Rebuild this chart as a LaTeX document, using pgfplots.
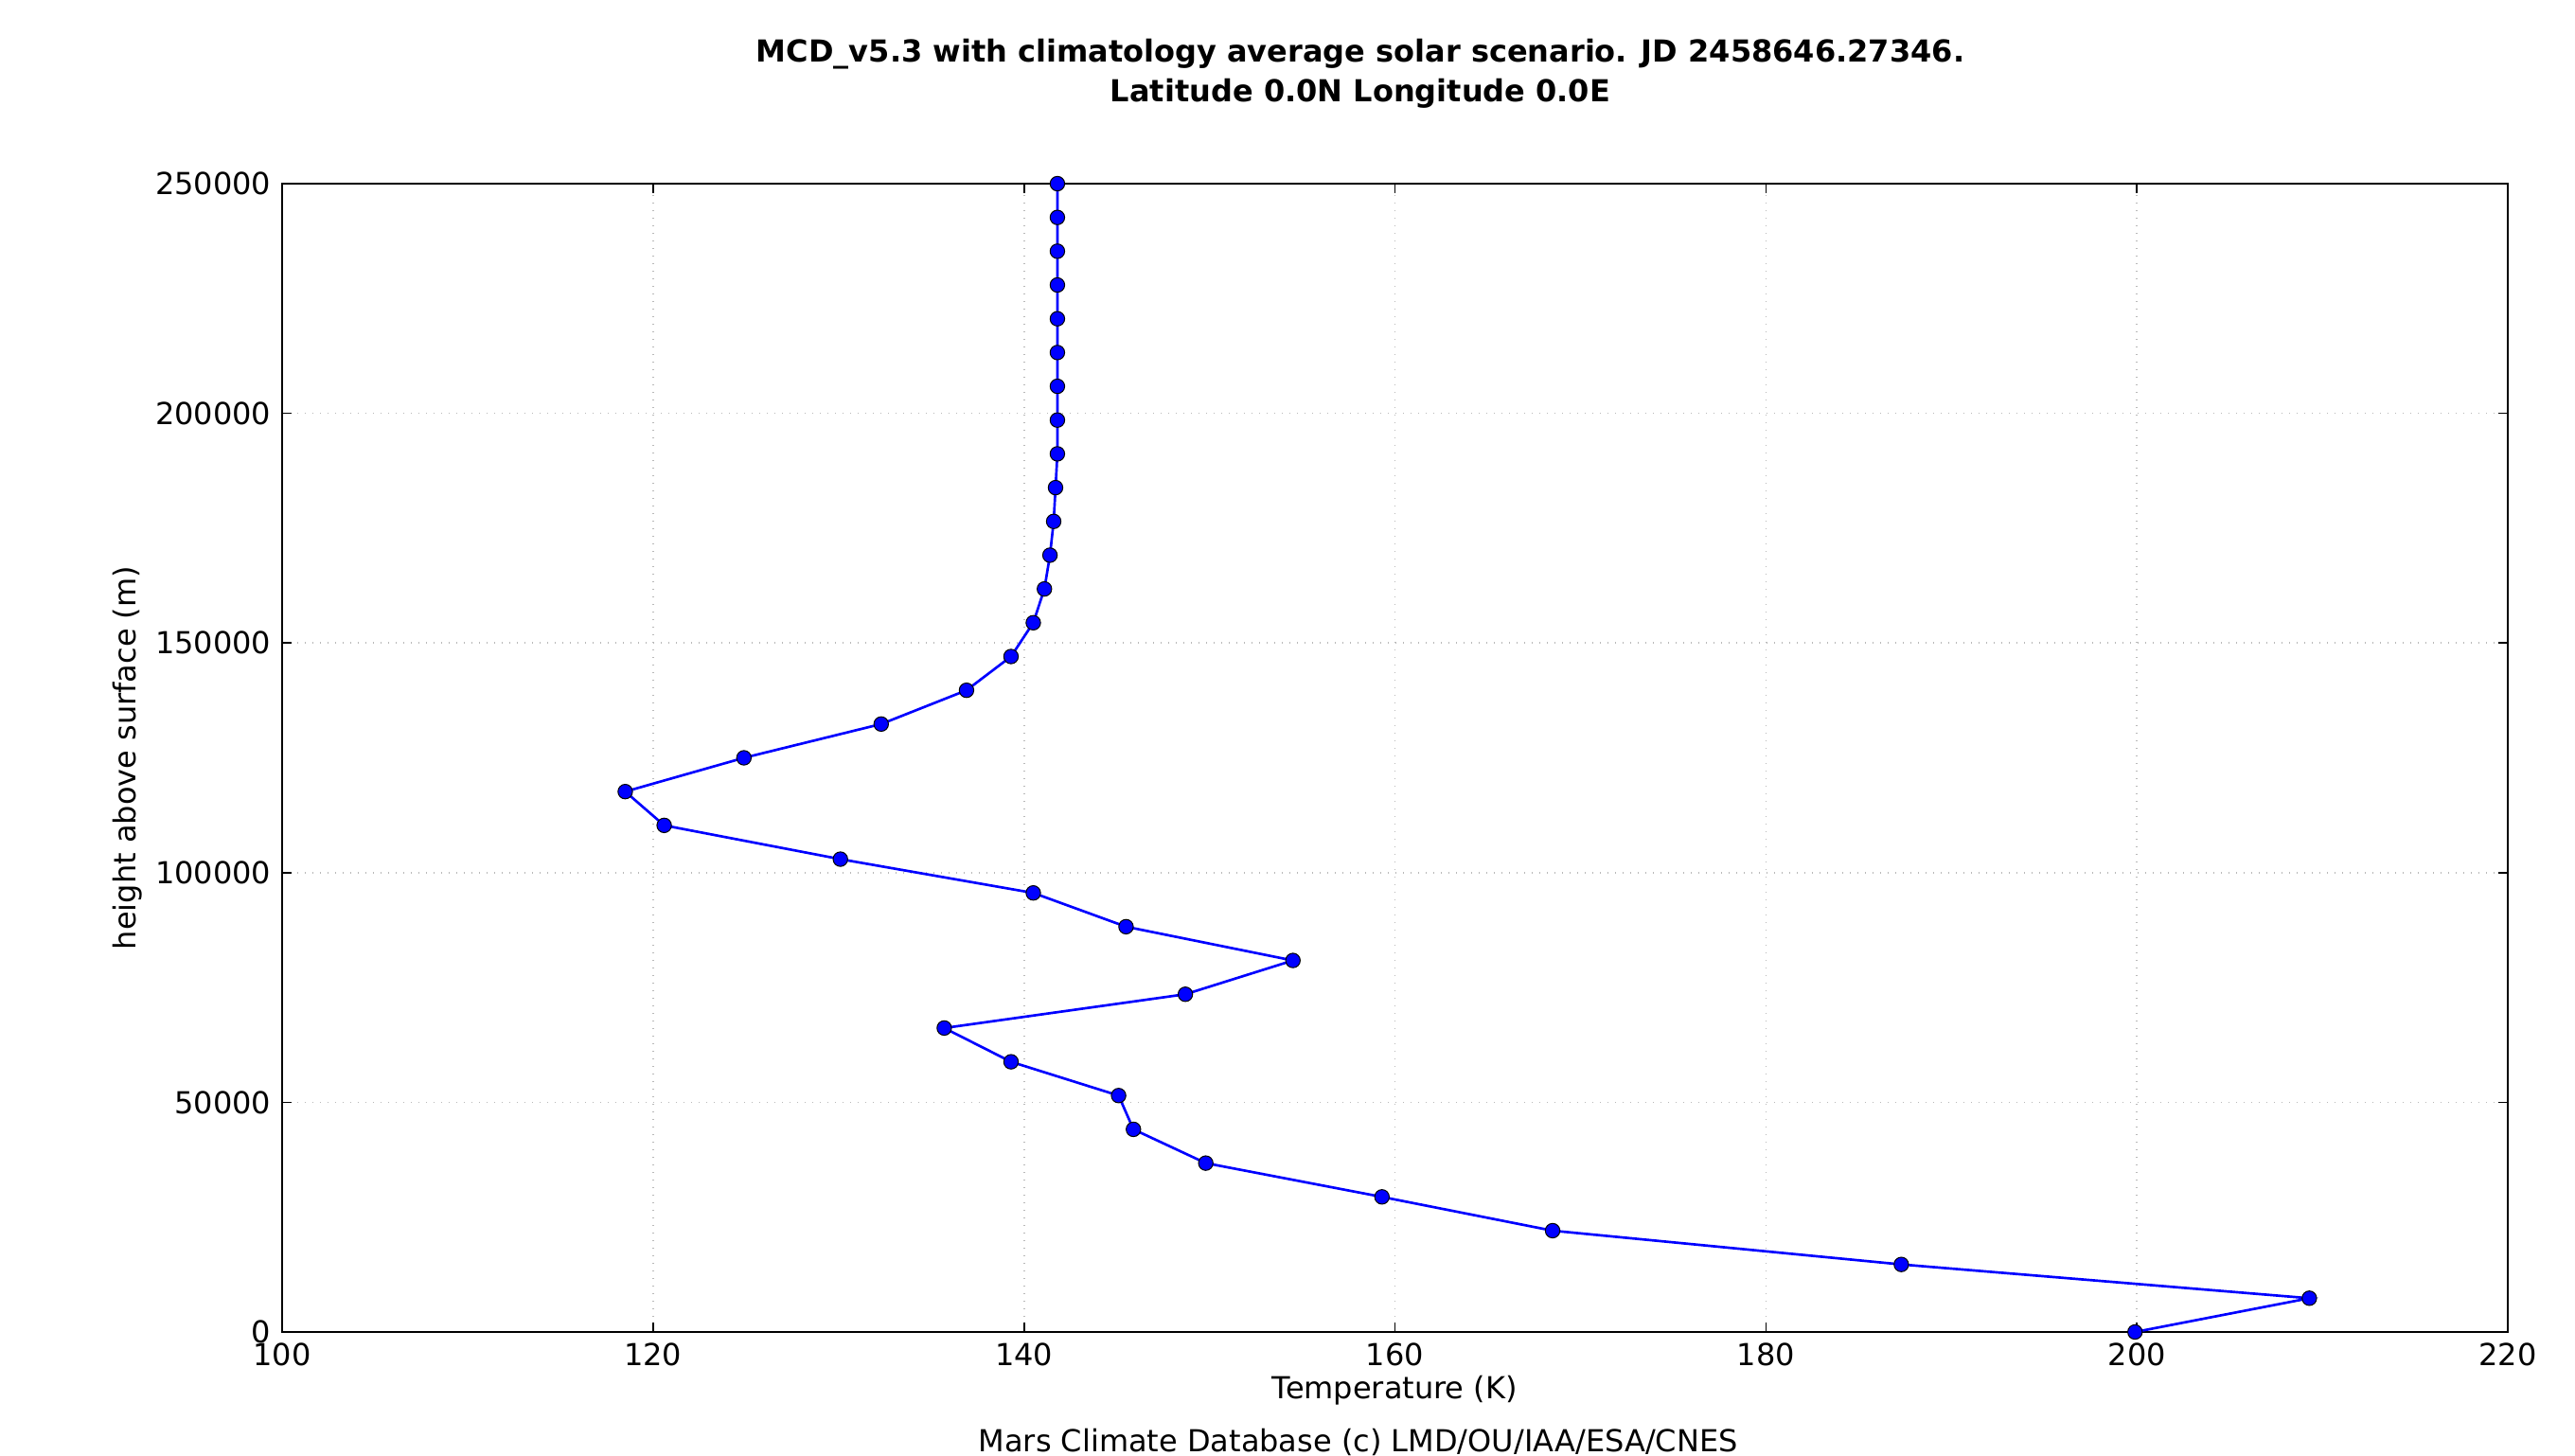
\documentclass[border=0pt]{standalone}
\usepackage{pgfplots}
\pgfplotsset{compat=1.18}
\usepackage{fontspec}
\setmainfont{DejaVu Sans}

\pgfplotstableread{
T h
199.9 0
209.3 7353
187.3 14706
168.5 22059
159.3 29412
149.8 36765
145.9 44118
145.1 51471
139.3 58824
135.7 66176
148.7 73529
154.5 80882
145.5 88235
140.5 95588
130.1 102941
120.6 110294
118.5 117647
124.9 125000
132.3 132353
136.9 139706
139.3 147059
140.5 154412
141.1 161765
141.4 169118
141.6 176471
141.7 183824
141.8 191176
141.8 198529
141.8 205882
141.8 213235
141.8 220588
141.8 227941
141.8 235294
141.8 242647
141.8 250000
}\profile

\begin{document}
\begin{tikzpicture}
\useasboundingbox (-89.4pt,-39pt) rectangle (726.6pt,422.1pt);
\begin{axis}[
  at={(0,0)}, anchor=south west,
  scale only axis, width=705.3pt, height=363.9pt,
  xmin=100, xmax=220, ymin=0, ymax=250000,
  xtick={100,120,...,220}, ytick={0,50000,...,250000},
  scaled y ticks=false,
  yticklabel style={/pgf/number format/fixed,/pgf/number format/1000 sep={}},
  /pgf/number format/assume math mode=true,
  tick label style={font=\fontsize{9.6}{11}\selectfont},
  tick align=inside, major tick length=3pt,
  tick style={black, line width=0.5pt},
  axis line style={black, line width=0.8pt},
  grid=major,
  major grid style={gray!55, dotted, line width=0.5pt},
  xtick pos=both, ytick pos=both,
  clip=false,
]
\addplot[blue, line width=0.8pt, mark=*, mark size=2.3pt,
  mark options={fill=blue, draw=black, line width=0.3pt}] table[x=T, y=h] {\profile};
\end{axis}
\node[font=\bfseries\fontsize{9.6}{11}\selectfont] at (341.7pt,404.9pt) {MCD\_v5.3 with climatology average solar scenario. JD 2458646.27346.};
\node[font=\bfseries\fontsize{9.6}{11}\selectfont] at (341.7pt,392.4pt) {Latitude 0.0N Longitude 0.0E};
\node[font=\fontsize{9.6}{11}\selectfont] at (352.6pt,-18.6pt) {Temperature (K)};
\node[font=\fontsize{9.6}{11}\selectfont] at (341pt,-34.8pt) {Mars Climate Database (c) LMD/OU/IAA/ESA/CNES};
\node[font=\fontsize{9.6}{11}\selectfont, rotate=90] at (-49pt,181.95pt) {height above surface (m)};
\end{tikzpicture}
\end{document}
